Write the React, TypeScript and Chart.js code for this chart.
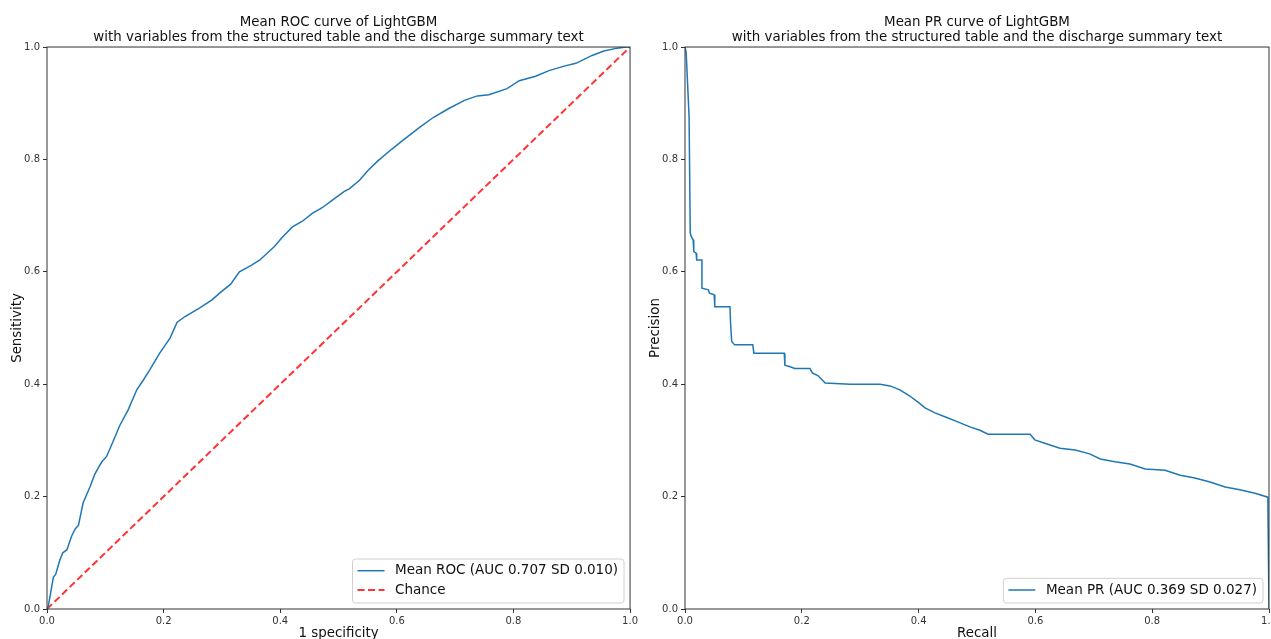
import React, { useEffect, useRef } from "react";
import { Chart, registerables } from "chart.js";

Chart.register(...registerables);

// ---- Data ----
const rocTitle = ["Mean ROC curve of LightGBM", "with variables from the structured table and the discharge summary text"];
const prTitle = ["Mean PR curve of LightGBM", "with variables from the structured table and the discharge summary text"];

const rocFpr = [0, 0.002, 0.005, 0.011, 0.015, 0.022, 0.027, 0.034, 0.042, 0.048, 0.054, 0.062, 0.074, 0.082, 0.088, 0.094, 0.102, 0.112, 0.125, 0.139, 0.154, 0.165, 0.176, 0.193, 0.211, 0.223, 0.236, 0.262, 0.283, 0.296, 0.315, 0.33, 0.351, 0.365, 0.39, 0.404, 0.421, 0.438, 0.455, 0.472, 0.49, 0.51, 0.519, 0.536, 0.55, 0.567, 0.591, 0.613, 0.639, 0.663, 0.69, 0.716, 0.738, 0.758, 0.789, 0.81, 0.838, 0.861, 0.887, 0.907, 0.935, 0.955, 0.978, 0.993, 1.0];
const rocTpr = [0, 0.004, 0.021, 0.057, 0.062, 0.087, 0.1, 0.105, 0.129, 0.142, 0.149, 0.189, 0.218, 0.24, 0.251, 0.262, 0.271, 0.295, 0.327, 0.354, 0.39, 0.407, 0.425, 0.455, 0.482, 0.51, 0.52, 0.536, 0.55, 0.562, 0.578, 0.6, 0.612, 0.621, 0.645, 0.662, 0.68, 0.69, 0.704, 0.714, 0.728, 0.743, 0.748, 0.763, 0.78, 0.797, 0.818, 0.836, 0.857, 0.875, 0.891, 0.905, 0.913, 0.915, 0.926, 0.94, 0.948, 0.958, 0.966, 0.971, 0.985, 0.993, 0.998, 1.0, 1.0];

const chanceX = [0, 1];
const chanceY = [0, 1];

const prRecall = [0, 0.002, 0.007, 0.009, 0.011, 0.014, 0.015, 0.019, 0.02, 0.029, 0.029, 0.04, 0.042, 0.05, 0.051, 0.077, 0.078, 0.08, 0.085, 0.116, 0.118, 0.17, 0.171, 0.18, 0.188, 0.214, 0.218, 0.228, 0.24, 0.283, 0.334, 0.351, 0.368, 0.385, 0.399, 0.411, 0.428, 0.445, 0.467, 0.488, 0.505, 0.519, 0.591, 0.599, 0.616, 0.642, 0.668, 0.693, 0.711, 0.736, 0.762, 0.788, 0.822, 0.848, 0.873, 0.899, 0.925, 0.95, 0.976, 0.998, 1.0];
const prPrecision = [1.0, 0.99, 0.876, 0.669, 0.662, 0.657, 0.636, 0.633, 0.621, 0.621, 0.571, 0.568, 0.562, 0.559, 0.538, 0.538, 0.509, 0.476, 0.47, 0.47, 0.455, 0.455, 0.434, 0.431, 0.428, 0.428, 0.42, 0.415, 0.402, 0.4, 0.4, 0.397, 0.39, 0.379, 0.368, 0.358, 0.349, 0.342, 0.333, 0.324, 0.318, 0.311, 0.311, 0.301, 0.295, 0.286, 0.283, 0.276, 0.267, 0.262, 0.258, 0.249, 0.247, 0.238, 0.233, 0.226, 0.217, 0.212, 0.206, 0.199, 0.0];

const axisTicks = [0, 0.2, 0.4, 0.6, 0.8, 1.0];

const rocLabel = "Mean ROC (AUC 0.707 SD 0.010)";
const chanceLabel = "Chance";
const prLabel = "Mean PR (AUC 0.369 SD 0.027)";

const FONT = "'DejaVu Sans', 'Liberation Sans', sans-serif";
const BLUE = "#1f77b4";
const RED = "rgba(255,0,0,0.8)";
const DASH = [7, 3.5];
const LEGEND_FS = 13.5;

const toPoints = (xs: number[], ys: number[]) => xs.map((x, i) => ({ x, y: ys[i] }));

const spinesPlugin = {
  id: "spines",
  afterDatasetsDraw(chart: any) {
    const { ctx, chartArea } = chart;
    ctx.save();
    ctx.strokeStyle = "#333";
    ctx.lineWidth = 1;
    ctx.strokeRect(chartArea.left, chartArea.top, chartArea.right - chartArea.left, chartArea.bottom - chartArea.top);
    ctx.restore();
  },
};

const legendPlugin = {
  id: "mplLegend",
  afterDraw(chart: any, _args: any, opts: any) {
    const items = opts.items || [];
    if (!items.length) return;
    const { ctx, chartArea } = chart;
    ctx.save();
    ctx.font = `${LEGEND_FS}px ${FONT}`;
    const maxW = Math.max(...items.map((it: any) => ctx.measureText(it.label).width));
    const rowH = 19.3;
    const handle = 27;
    const gap = 10.5;
    const w = 5 + handle + gap + maxW + 6;
    const h = (items.length - 1) * rowH + 24.7;
    const right = chartArea.right - 6;
    const bottom = chartArea.bottom - 6;
    const left = right - w;
    const top = bottom - h;
    ctx.beginPath();
    if (ctx.roundRect) ctx.roundRect(left, top, w, h, 3);
    else ctx.rect(left, top, w, h);
    ctx.fillStyle = "rgba(255,255,255,0.8)";
    ctx.fill();
    ctx.strokeStyle = "#d0d0d0";
    ctx.lineWidth = 1;
    ctx.stroke();
    items.forEach((it: any, i: number) => {
      const cy = top + 11.7 + i * rowH;
      ctx.beginPath();
      ctx.setLineDash(it.dash || []);
      ctx.strokeStyle = it.color;
      ctx.lineWidth = it.width;
      ctx.moveTo(left + 5, cy);
      ctx.lineTo(left + 5 + handle, cy);
      ctx.stroke();
      ctx.setLineDash([]);
      ctx.fillStyle = "#111";
      ctx.textBaseline = "middle";
      ctx.textAlign = "left";
      ctx.fillText(it.label, left + 5 + handle + gap, cy);
    });
    ctx.restore();
  },
};

function makeScale(title: string, horizontal: boolean) {
  return {
    type: "linear" as const,
    min: 0,
    max: 1,
    afterBuildTicks: (scale: any) => {
      scale.ticks = axisTicks.map((v) => ({ value: v }));
    },
    afterFit: (scale: any) => {
      if (horizontal) scale.height = 51;
      else scale.width = 47;
    },
    ticks: {
      font: { family: FONT, size: 10 },
      color: "#333",
      padding: horizontal ? 2 : 3,
      maxRotation: 0,
      autoSkip: false,
      callback: (v: any) => Number(v).toFixed(1),
    },
    grid: {
      drawOnChartArea: false,
      drawTicks: true,
      tickLength: 4,
      tickColor: "#333",
    },
    border: { display: false },
    title: {
      display: true,
      text: title,
      color: "#111",
      font: { family: FONT, size: 13.4 },
      padding: horizontal ? { top: 0, bottom: 18.5 } : { top: 9.5, bottom: 0 },
    },
  };
}

function makeOptions(titleLines: string[], xTitle: string, yTitle: string, rightPad: number, legendItems: any[]) {
  return {
    responsive: false,
    animation: false as const,
    layout: { padding: { left: 0, right: rightPad, top: 0, bottom: 0 } },
    scales: {
      x: makeScale(xTitle, true),
      y: makeScale(yTitle, false),
    },
    plugins: {
      legend: { display: false },
      tooltip: { enabled: false },
      title: {
        display: true,
        text: titleLines,
        fullSize: false,
        color: "#111",
        font: { family: FONT, size: 13.4, weight: "normal" as const, lineHeight: 1.12 },
        padding: { top: 15.5, bottom: 1.5 },
      },
      mplLegend: { items: legendItems },
    },
  };
}

export default function App() {
  const leftRef = useRef<HTMLCanvasElement>(null);
  const rightRef = useRef<HTMLCanvasElement>(null);

  useEffect(() => {
    const left = new Chart(leftRef.current as HTMLCanvasElement, {
      type: "line",
      data: {
        datasets: [
          {
            label: rocLabel,
            data: toPoints(rocFpr, rocTpr),
            borderColor: BLUE,
            borderWidth: 1.5,
            pointRadius: 0,
            tension: 0,
            fill: false,
          },
          {
            label: chanceLabel,
            data: toPoints(chanceX, chanceY),
            borderColor: RED,
            borderWidth: 2,
            borderDash: DASH,
            pointRadius: 0,
            tension: 0,
            fill: false,
          },
        ],
      },
      options: makeOptions(rocTitle, "1 specificity", "Sensitivity", 9, [
        { label: rocLabel, color: BLUE, width: 1.5 },
        { label: chanceLabel, color: RED, width: 2, dash: DASH },
      ]) as any,
      plugins: [spinesPlugin, legendPlugin],
    });

    const right = new Chart(rightRef.current as HTMLCanvasElement, {
      type: "line",
      data: {
        datasets: [
          {
            label: prLabel,
            data: toPoints(prRecall, prPrecision),
            borderColor: BLUE,
            borderWidth: 1.5,
            pointRadius: 0,
            tension: 0,
            fill: false,
          },
        ],
      },
      options: makeOptions(prTitle, "Recall", "Precision", 29, [{ label: prLabel, color: BLUE, width: 1.5 }]) as any,
      plugins: [spinesPlugin, legendPlugin],
    });

    return () => {
      left.destroy();
      right.destroy();
    };
  }, []);

  return (
    <div style={{ position: "fixed", left: 0, top: 0, width: 1271, height: 639, overflow: "hidden", background: "#fff" }}>
      <canvas ref={leftRef} width={640} height={660} style={{ position: "absolute", left: 0, top: 0 }} />
      <canvas ref={rightRef} width={660} height={660} style={{ position: "absolute", left: 638, top: 0 }} />
    </div>
  );
}
